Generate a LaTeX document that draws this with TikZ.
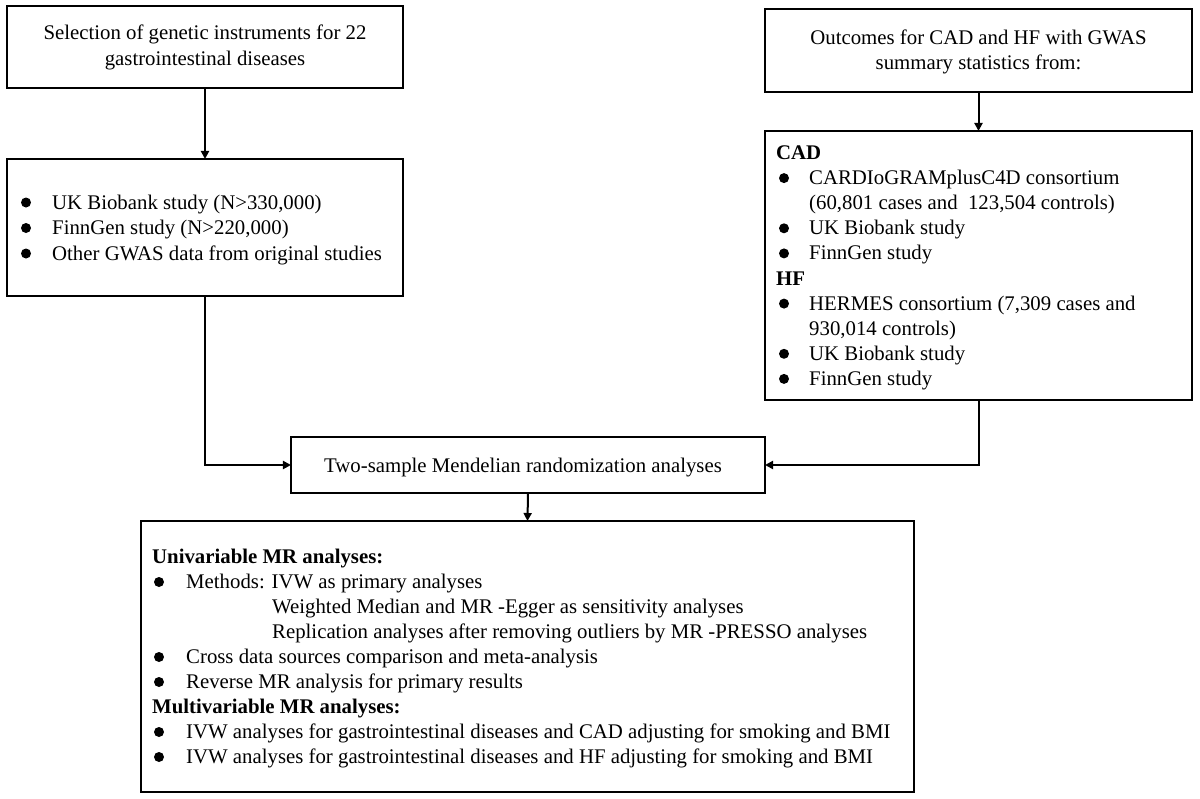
\documentclass[tikz,border=0pt]{standalone}
\usepackage{fontspec}
\setmainfont{Liberation Serif}
\usetikzlibrary{arrows.meta}
\tikzset{
  box/.style={draw=black, line width=1.7bp, rectangle, inner sep=0pt, outer sep=0pt},
  conn/.style={draw=black, line width=2bp, -{Triangle[length=8bp,width=8bp]}},
  txt/.style={inner sep=0pt, anchor=base west, font=\fontsize{20.8bp}{25bp}\selectfont},
  ctxt/.style={txt, anchor=base},
  btxt/.style={txt, font=\fontsize{20.8bp}{25bp}\selectfont\bfseries},
}
\newcommand\bul[2]{\fill[black] (#1,#2-6.5) circle (5bp);}
\begin{document}
\begin{tikzpicture}[x=1bp,y=-1bp]
\useasboundingbox (0,0) rectangle (1200,799);
\fill[white] (0,0) rectangle (1200,799);

% boxes
\node[box, minimum width=396bp, minimum height=82bp] (b1) at (205,47) {};
\node[box, minimum width=396bp, minimum height=137bp] (b2) at (205,227.5) {};
\node[box, minimum width=427bp, minimum height=83bp] (b3) at (978.5,50.5) {};
\node[box, minimum width=427bp, minimum height=269bp] (b4) at (978.5,265.5) {};
\node[box, minimum width=474bp, minimum height=56bp] (two) at (528,465) {};
\node[box, minimum width=773bp, minimum height=271bp] (b5) at (527.5,656.5) {};

% box 1
\node[ctxt] (b1a) at (205,40) {Selection of genetic instruments for 22};
\node[ctxt] (b1b) at (205,66) {gastrointestinal diseases};

% box 2
\bul{26}{209}
\node[txt] (b2a) at (52,209) {UK Biobank study (N>330,000)};
\bul{26}{234.5}
\node[txt] (b2b) at (52,234.5) {FinnGen study (N>220,000)};
\bul{26}{260}
\node[txt] (b2c) at (52,260) {Other GWAS data from original studies};

% box 3
\node[ctxt] (b3a) at (978.5,45) {Outcomes for CAD and HF with GWAS};
\node[ctxt] (b3b) at (978.5,70) {summary statistics from:};

% box 4
\node[btxt] (b4a) at (776,159.5) {CAD};
\bul{784}{184.6}
\node[txt] (b4b) at (809,184.6) {CARDIoGRAMplusC4D consortium};
\node[txt] (b4c) at (809,209.7) {(60,801 cases and \ 123,504 controls)};
\bul{784}{234.8}
\node[txt] (b4d) at (809,234.8) {UK Biobank study};
\bul{784}{259.9}
\node[txt] (b4e) at (809,259.9) {FinnGen study};
\node[btxt] (b4f) at (776,285) {HF};
\bul{784}{310.1}
\node[txt] (b4g) at (809,310.1) {HERMES consortium (7,309 cases and};
\node[txt] (b4h) at (809,335.2) {930,014 controls)};
\bul{784}{360.3}
\node[txt] (b4i) at (809,360.3) {UK Biobank study};
\bul{784}{385.4}
\node[txt] (b4j) at (809,385.4) {FinnGen study};

% two-sample
\node[ctxt] (twot) at (523,472) {Two-sample Mendelian randomization analyses};

% bottom box
\node[btxt] (b5a) at (152,563.5) {Univariable MR analyses:};
\bul{159}{588.5}
\node[txt] (b5b) at (186,588.5) {Methods: IVW as primary analyses};
\node[txt] (b5c) at (272,613.5) {Weighted Median and MR -Egger as sensitivity analyses};
\node[txt] (b5d) at (272,638.5) {Replication analyses after removing outliers by MR -PRESSO analyses};
\bul{159}{663.5}
\node[txt] (b5e) at (186,663.5) {Cross data sources comparison and meta-analysis};
\bul{159}{688.5}
\node[txt] (b5f) at (186,688.5) {Reverse MR analysis for primary results};
\node[btxt] (b5g) at (152,713.5) {Multivariable MR analyses:};
\bul{159}{738.5}
\node[txt] (b5h) at (186,738.5) {IVW analyses for gastrointestinal diseases and CAD adjusting for smoking and BMI};
\bul{159}{763.5}
\node[txt] (b5i) at (186,763.5) {IVW analyses for gastrointestinal diseases and HF adjusting for smoking and BMI};

% connectors
\draw[conn] (b1.south) -- (b2.north);
\draw[conn] (b3.south) -- (b4.north);
\draw[conn] (b2.south) |- (two.west);
\draw[conn] (b4.south) |- (two.east);
\draw[conn] (two.south) -- (b5.north);
\end{tikzpicture}
\end{document}
